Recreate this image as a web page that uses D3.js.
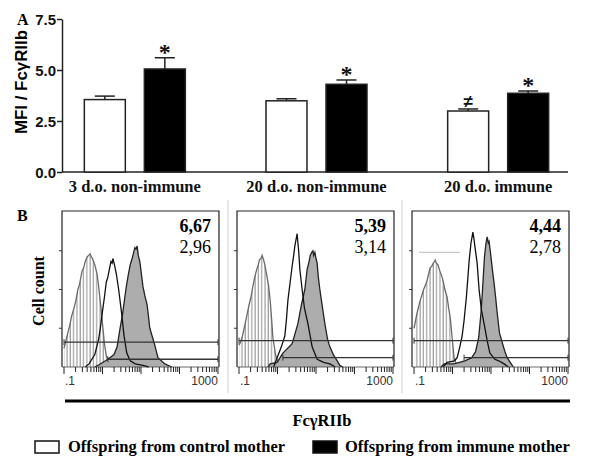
<!DOCTYPE html>
<html><head><meta charset="utf-8">
<script src="https://cdn.jsdelivr.net/npm/d3@7"></script>
<style>body{margin:0;background:#fff}</style>
</head><body>
<svg id="c" width="600" height="457"></svg>
<script>
// ---------- Panel A data ----------
const groups = ["3 d.o. non-immune", "20 d.o. non-immune", "20 d.o. immune"];
const series = ["control", "immune"];
const controlMean = [3.55, 3.49, 2.99];
const controlErr  = [0.17, 0.10, 0.10];
const immuneMean  = [5.05, 4.30, 3.86];
const immuneErr   = [0.55, 0.21, 0.11];
const controlMarks = ["", "", "≠"];
const immuneMarks  = ["*", "*", "*"];
const yTicks = [0, 2.5, 5.0, 7.5];

// ---------- Panel B data ----------
const panels = ["p1", "p2", "p3"];
const mfiBold    = ["6,67", "5,39", "4,44"];
const mfiRegular = ["2,96", "3,14", "2,78"];
const xTickLabels = [".1", "1000"];
// histogram outlines: [log10(fluorescence), relative cell count]
const isoP1 = [[-1.0,12],[-0.95,17],[-0.9,22],[-0.85,27],[-0.8,33],[-0.74,38],[-0.69,43],[-0.64,50],[-0.6,53],[-0.53,62],[-0.49,64],[-0.45,68],[-0.4,71],[-0.36,72],[-0.32,73],[-0.29,71],[-0.26,70],[-0.2,66],[-0.14,60],[-0.1,52],[-0.07,45],[-0.03,36],[0.0,28],[0.05,15],[0.1,7],[0.2,2],[0.3,0]];
const ctlP1 = [[-0.45,0],[-0.35,2],[-0.2,8],[-0.1,18],[-0.05,26],[0.0,36],[0.05,45],[0.1,55],[0.14,58],[0.17,62],[0.22,68],[0.25,67],[0.27,70],[0.31,66],[0.36,60],[0.42,50],[0.5,34],[0.56,20],[0.63,9],[0.72,4],[0.85,2],[1.05,1],[1.2,0]];
const immP1 = [[-0.2,0],[-0.12,1],[0.14,5],[0.3,8],[0.38,13],[0.45,24],[0.52,34],[0.58,45],[0.62,52],[0.66,58],[0.72,66],[0.77,70],[0.8,73],[0.84,77],[0.87,76],[0.9,78],[0.93,72],[0.97,68],[1.0,62],[1.05,52],[1.1,46],[1.16,40],[1.23,25],[1.3,19],[1.36,14],[1.44,6],[1.62,2],[1.8,0]];
const isoP2 = [[-1.0,14],[-0.96,16],[-0.92,19],[-0.84,28],[-0.79,34],[-0.74,40],[-0.69,45],[-0.64,52],[-0.6,57],[-0.55,62],[-0.5,66],[-0.47,69],[-0.43,70],[-0.4,72],[-0.36,69],[-0.33,66],[-0.27,58],[-0.23,52],[-0.19,43],[-0.15,30],[-0.12,19],[-0.05,8],[0.01,3],[0.1,0]];
const ctlP2 = [[-0.1,0],[-0.01,6],[0.1,13],[0.19,20],[0.23,30],[0.27,43],[0.33,55],[0.38,65],[0.42,72],[0.45,78],[0.48,82],[0.51,86],[0.53,80],[0.55,75],[0.58,63],[0.64,50],[0.7,38],[0.79,28],[0.9,13],[1.03,5],[1.2,3],[1.36,2],[1.5,0]];
const immP2 = [[-0.25,0],[-0.19,2],[-0.01,3],[0.14,9],[0.38,15],[0.53,28],[0.62,40],[0.71,50],[0.77,63],[0.82,68],[0.85,72],[0.89,74],[0.92,75],[0.94,72],[0.97,74],[1.0,70],[1.03,67],[1.06,58],[1.1,50],[1.17,38],[1.23,28],[1.3,18],[1.36,13],[1.45,8],[1.55,4],[1.62,1],[1.7,0]];
const isoP3 = [[-1.0,25],[-0.96,30],[-0.92,35],[-0.84,43],[-0.8,46],[-0.75,50],[-0.7,53],[-0.66,56],[-0.62,60],[-0.58,64],[-0.54,65],[-0.5,67],[-0.47,68],[-0.45,69],[-0.42,67],[-0.38,66],[-0.33,62],[-0.27,58],[-0.23,54],[-0.2,50],[-0.14,45],[-0.1,38],[-0.06,32],[-0.01,19],[0.04,6],[0.1,2],[0.15,0]];
const ctlP3 = [[-0.25,0],[-0.14,3],[0.05,4],[0.12,6],[0.19,13],[0.25,20],[0.3,30],[0.36,45],[0.4,58],[0.43,68],[0.48,80],[0.53,87],[0.56,82],[0.58,78],[0.64,67],[0.69,50],[0.75,37],[0.82,28],[0.9,17],[0.97,9],[1.1,5],[1.2,4],[1.34,2],[1.45,0]];
const immP3 = [[-0.3,0],[-0.22,2],[0.04,2],[0.32,4],[0.5,6],[0.6,10],[0.68,19],[0.74,35],[0.78,50],[0.83,71],[0.87,80],[0.9,84],[0.93,80],[0.95,81],[0.98,75],[1.04,62],[1.08,54],[1.12,45],[1.16,35],[1.22,22],[1.3,15],[1.36,10],[1.42,6],[1.5,3],[1.58,0]];
const isotype = [isoP1, isoP2, isoP3];
const controlHist = [ctlP1, ctlP2, ctlP3];
const immuneHist = [immP1, immP2, immP3];
// gate markers: [start log10, end log10, count level]
const upperGate = [[-1, 3, 16], [-1, 3, 17], [-1, 3, 17]];
const lowerGate = [[0.14, 3, 5], [0.14, 3, 6], [0.3, 3, 6]];

const svg = d3.select("#c");
const serif = "'Liberation Serif', 'Times New Roman', serif";
const sans = "'Liberation Sans', Arial, sans-serif";

// ================= PANEL A =================
const yA = d3.scaleLinear().domain([0, 7.5]).range([172, 19]);
const x0 = d3.scaleBand().domain(groups).range([44, 589]);
const x1 = d3.scaleBand().domain(series).range([-50.5, 50.5]).paddingInner(0.317);

const yAxis = svg.append("g").attr("transform", "translate(62,0)")
  .call(d3.axisLeft(yA).tickValues(yTicks).tickFormat(d3.format(".1f")).tickSize(5).tickSizeOuter(0));
yAxis.select(".domain").attr("stroke", "#222").attr("stroke-width", 1.5);
yAxis.selectAll(".tick line").attr("stroke", "#222").attr("stroke-width", 1.5);
yAxis.selectAll(".tick text").attr("font-family", sans).attr("font-weight", "bold")
  .attr("font-size", 15).attr("fill", "#111").attr("x", -6).attr("dy", "0.36em");

svg.append("line").attr("x1", 62).attr("x2", 568).attr("y1", yA(0)).attr("y2", yA(0))
  .attr("stroke", "#222").attr("stroke-width", 1.5);

const barData = [];
groups.forEach((g, i) => {
  barData.push({g, s: "control", v: controlMean[i], e: controlErr[i], m: controlMarks[i]});
  barData.push({g, s: "immune", v: immuneMean[i], e: immuneErr[i], m: immuneMarks[i]});
});
const cx = d => x0(d.g) + x0.bandwidth() / 2 + x1(d.s) + x1.bandwidth() / 2;

svg.selectAll(".bar").data(barData).join("rect")
  .attr("x", d => x0(d.g) + x0.bandwidth() / 2 + x1(d.s))
  .attr("width", x1.bandwidth())
  .attr("y", d => yA(d.v)).attr("height", d => yA(0) - yA(d.v))
  .attr("fill", d => d.s === "control" ? "#fff" : "#000")
  .attr("stroke", "#222").attr("stroke-width", 1.5);

svg.selectAll(".err").data(barData).join("line")
  .attr("x1", cx).attr("x2", cx).attr("y1", d => yA(d.v)).attr("y2", d => yA(d.v + d.e))
  .attr("stroke", "#222").attr("stroke-width", 1.5);
svg.selectAll(".cap").data(barData).join("line")
  .attr("x1", d => cx(d) - 10).attr("x2", d => cx(d) + 10)
  .attr("y1", d => yA(d.v + d.e)).attr("y2", d => yA(d.v + d.e))
  .attr("stroke", "#222").attr("stroke-width", 1.5);
svg.selectAll(".mark").data(barData.filter(d => d.m)).join("text")
  .attr("x", cx).attr("y", d => yA(d.v + d.e) + (d.m === "*" ? 2 : -2))
  .attr("text-anchor", "middle").attr("font-family", d => d.m === "*" ? serif : sans).attr("font-weight", "bold")
  .attr("font-size", d => d.m === "*" ? 24 : 17).attr("fill", "#111").text(d => d.m);

svg.selectAll(".glab").data(groups).join("text")
  .attr("x", d => x0(d) + x0.bandwidth() / 2).attr("y", 192)
  .attr("text-anchor", "middle").attr("font-family", serif).attr("font-weight", "bold")
  .attr("font-size", 16.5).attr("fill", "#111").text(d => d);

svg.append("text").attr("x", 17).attr("y", 25).attr("font-family", serif).attr("font-weight", "bold")
  .attr("font-size", 16).text("A");
svg.append("text").attr("transform", "translate(27,82) rotate(-90)").attr("text-anchor", "middle")
  .attr("font-family", sans).attr("font-weight", "bold").attr("font-size", 16)
  .attr("textLength", 104).attr("lengthAdjust", "spacingAndGlyphs").text("MFI / FcγRIIb");

// ================= PANEL B =================
const defs = svg.append("defs");
const pat = defs.append("pattern").attr("id", "stripes").attr("patternUnits", "userSpaceOnUse")
  .attr("width", 3.3).attr("height", 10);
pat.append("rect").attr("width", 3.3).attr("height", 10).attr("fill", "#fff");
pat.append("line").attr("x1", 1).attr("x2", 1).attr("y1", 0).attr("y2", 10)
  .attr("stroke", "#8a8a8a").attr("stroke-width", 1);

svg.append("text").attr("x", 17).attr("y", 221).attr("font-family", serif).attr("font-weight", "bold")
  .attr("font-size", 16).text("B");
svg.append("text").attr("transform", "translate(44,291) rotate(-90)").attr("text-anchor", "middle")
  .attr("font-family", serif).attr("font-weight", "bold").attr("font-size", 16).text("Cell count");

const xP = d3.scaleBand().domain(panels).range([62, 569]).paddingInner(0.103);
const yH = d3.scaleLinear().domain([0, 100]).range([367, 212]);
const topY = 211, baseY = 367;

panels.forEach((p, i) => {
  const px = xP(p), w = xP.bandwidth();
  const xs = d3.scaleLog().domain([0.1, 1000]).range([px + 2, px + w - 1]);
  const g = svg.append("g");
  const area = d3.area().x(d => xs(Math.pow(10, d[0]))).y0(yH(0)).y1(d => yH(d[1]));
  const line = d3.line().x(d => xs(Math.pow(10, d[0]))).y(d => yH(d[1]));

  // isotype (striped)
  g.append("path").datum(isotype[i]).attr("d", area).attr("fill", "url(#stripes)");
  g.append("path").datum(isotype[i]).attr("d", line).attr("fill", "none")
    .attr("stroke", "#6a6a6a").attr("stroke-width", 1.3);
  // immune mother (grey filled)
  g.append("path").datum(immuneHist[i]).attr("d", area).attr("fill", "#adadad");
  g.append("path").datum(immuneHist[i]).attr("d", line).attr("fill", "none")
    .attr("stroke", "#222").attr("stroke-width", 1.3);
  // control mother (open)
  g.append("path").datum(controlHist[i]).attr("d", line).attr("fill", "none")
    .attr("stroke", "#111").attr("stroke-width", 1.3);

  // gates
  [upperGate[i], lowerGate[i]].forEach(gt => {
    const a = xs(Math.pow(10, gt[0])), b = xs(Math.pow(10, gt[1])), yy = yH(gt[2]);
    g.append("line").attr("x1", a).attr("x2", b).attr("y1", yy).attr("y2", yy)
      .attr("stroke", "#333").attr("stroke-width", 1.3);
    [a, b].forEach(xx => g.append("line").attr("x1", xx).attr("x2", xx)
      .attr("y1", yy - 3).attr("y2", yy + 3).attr("stroke", "#333").attr("stroke-width", 1));
  });

  // frame
  g.append("path").attr("d", `M${px},${baseY}V${topY}H${px + w}V${baseY}`)
    .attr("fill", "none").attr("stroke", "#222").attr("stroke-width", 1.2);
  // baseline
  g.append("line").attr("x1", px).attr("x2", px + w).attr("y1", baseY).attr("y2", baseY)
    .attr("stroke", "#444").attr("stroke-width", 0.8);
  // left ticks
  g.selectAll(".lt").data([25, 50, 75]).join("line")
    .attr("x1", px - 3).attr("x2", px).attr("y1", d => yH(d)).attr("y2", d => yH(d))
    .attr("stroke", "#333").attr("stroke-width", 1);
  // log ticks
  const ticks = xs.ticks();
  g.selectAll(".xt").data(ticks).join("line")
    .attr("x1", d => xs(d)).attr("x2", d => xs(d)).attr("y1", baseY)
    .attr("y2", d => Math.abs(Math.log10(d) - Math.round(Math.log10(d))) < 1e-6 ? baseY + 7 : baseY + 5)
    .attr("stroke", "#222").attr("stroke-width", 1);
  g.append("text").attr("x", px + 3).attr("y", 385).attr("font-family", sans).attr("font-size", 12)
    .attr("fill", "#333").text(xTickLabels[0]);
  g.append("text").attr("x", px + w - 1).attr("y", 385).attr("text-anchor", "end").attr("font-family", sans)
    .attr("font-size", 12).attr("fill", "#333").text(xTickLabels[1]);

  // MFI values
  g.append("text").attr("x", px + w - 8).attr("y", 232).attr("text-anchor", "end")
    .attr("font-family", serif).attr("font-weight", "bold").attr("font-size", 18).text(mfiBold[i]);
  g.append("text").attr("x", px + w - 8).attr("y", 253).attr("text-anchor", "end")
    .attr("font-family", serif).attr("font-size", 18).text(mfiRegular[i]);
});

// faint scan artefact line in third panel
{
  const px = xP("p3"), w = xP.bandwidth();
  const xs = d3.scaleLog().domain([0.1, 1000]).range([px + 2, px + w - 1]);
  svg.append("line").attr("x1", xs(Math.pow(10, -0.87))).attr("x2", xs(Math.pow(10, 0.19)))
    .attr("y1", yH(74)).attr("y2", yH(74)).attr("stroke", "#aaa").attr("stroke-width", 0.8);
}
// light separators
[228, 402].forEach(x => svg.append("line").attr("x1", x).attr("x2", x).attr("y1", 200).attr("y2", 393)
  .attr("stroke", "#ccc").attr("stroke-width", 1));

svg.append("line").attr("x1", 65).attr("x2", 570).attr("y1", 401).attr("y2", 401)
  .attr("stroke", "#000").attr("stroke-width", 3);
svg.append("text").attr("x", 322).attr("y", 426).attr("text-anchor", "middle")
  .attr("font-family", serif).attr("font-weight", "bold").attr("font-size", 16.5).text("FcγRIIb");

// legend
const legendItems = [
  {label: "Offspring from control mother", fill: "#fff", bx: 35, tx: 68},
  {label: "Offspring from immune mother", fill: "#000", bx: 313, tx: 345}
];
legendItems.forEach(li => {
  svg.append("rect").attr("x", li.bx).attr("y", 441).attr("width", 24).attr("height", 12)
    .attr("fill", li.fill).attr("stroke", "#111").attr("stroke-width", 1.5);
  svg.append("text").attr("x", li.tx).attr("y", 452).attr("font-family", serif).attr("font-weight", "bold")
    .attr("font-size", 16.5).text(li.label);
});
</script>
</body></html>
